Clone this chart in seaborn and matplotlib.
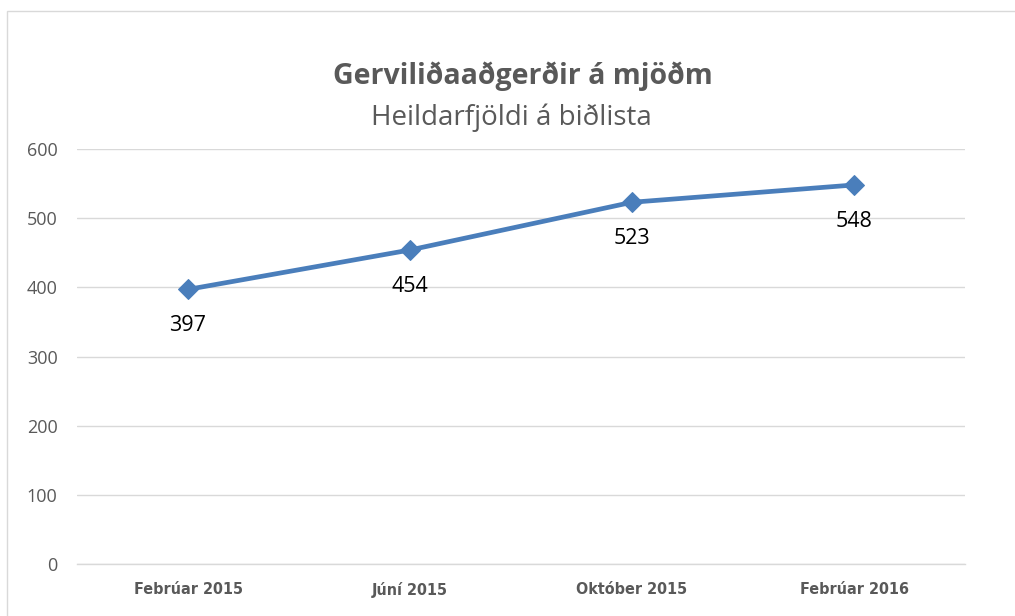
import matplotlib
matplotlib.use("Agg")
import matplotlib.pyplot as plt
import seaborn as sns
import pandas as pd
from matplotlib.patches import Rectangle

categories = ["Febrúar 2015", "Júní 2015", "Október 2015", "Febrúar 2016"]
values = [397, 454, 523, 548]
yticks = [0, 100, 200, 300, 400, 500, 600]

df = pd.DataFrame({"x": range(len(categories)), "v": values})

sns.set_theme(style="white")
plt.rcParams['font.family'] = ['Open Sans', 'DejaVu Sans']

fig = plt.figure(figsize=(10.15, 6.16), dpi=100)
ax = fig.add_axes([77/1015, 1-564/616, 888/1015, (564-149)/616])

color = "#4a7ebb"
sns.lineplot(data=df, x="x", y="v", ax=ax, color=color, linewidth=3.4,
             marker="D", markersize=10, markeredgecolor=color, zorder=3)

for xi, v in zip(df["x"], df["v"]):
    ax.annotate(str(v), (xi, v), xytext=(0, -26), textcoords="offset points",
                ha="center", va="center", fontsize=15.5, color="#000000")

ax.set_xlim(-0.5, len(categories) - 0.5)
ax.set_ylim(0, 600)
ax.set_yticks(yticks)
ax.set_yticklabels([str(t) for t in yticks], fontsize=13, color="#595959")
ax.set_xticks(range(len(categories)))
ax.set_xticklabels(categories, fontsize=11.5, fontweight="bold", color="#595959",
                   family="DejaVu Sans", fontstretch="condensed")
ax.tick_params(axis="y", length=0, pad=14)
ax.tick_params(axis="x", length=0, pad=13)
ax.grid(axis="y", color="#d9d9d9", linewidth=1)
ax.set_axisbelow(True)
for s in ["top", "right", "left"]:
    ax.spines[s].set_visible(False)
ax.spines["bottom"].set_color("#d9d9d9")
ax.spines["bottom"].set_linewidth(1)
ax.set_xlabel("")
ax.set_ylabel("")

fig.text(0.515, 1-76/616, "Gerviliðaaðgerðir á mjöðm", ha="center", va="center",
         fontsize=20.5, fontweight="bold", color="#595959")
fig.text(0.504, 1-118/616, "Heildarfjöldi á biðlista", ha="center", va="center",
         fontsize=20, color="#595959")

fig.patches.append(Rectangle((7/1015, -0.1), 1.2, 1 - 11/616 + 0.1,
                             transform=fig.transFigure, fill=False,
                             edgecolor="#d9d9d9", linewidth=1))

fig.savefig("out.png", dpi=100)
